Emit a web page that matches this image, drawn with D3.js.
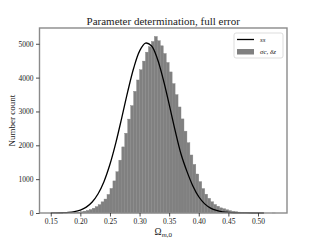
<!DOCTYPE html>
<html>
<head>
<meta charset="utf-8">
<script src="https://cdn.jsdelivr.net/npm/d3@7"></script>
<style>
  html, body { margin: 0; padding: 0; background: #fff; }
  svg { display: block; font-family: "Liberation Serif", "DejaVu Serif", serif; }
</style>
</head>
<body>
<div id="chart"></div>
<script>
// Histogram: left edge of each bin and the count in it
const binStart = 0.15;
const binWidth = 0.005;
const histCounts = [
  0, 0, 1, 1, 2, 4, 6, 9, 14, 24,
  38, 55, 77, 103, 142, 188, 246, 330, 412, 548,
  726, 948, 1218, 1561, 1953, 2357, 2774, 3172, 3595, 3930,
  4231, 4488, 4752, 4913, 5068, 5215, 5088, 4940, 4712, 4447,
  4168, 3822, 3496, 3133, 2780, 2418, 2076, 1714, 1436, 1152,
  928, 722, 556, 434, 331, 252, 200, 152, 126, 95,
  70, 51, 38, 26, 17, 11, 7, 5, 3, 2,
  1, 1, 0, 0, 0, 1
];

// "ss" curve
const curveOmega = [
  0.15, 0.16, 0.17, 0.18, 0.19, 0.20, 0.21, 0.22, 0.23, 0.24,
  0.25, 0.26, 0.27, 0.28, 0.29, 0.30, 0.31, 0.32, 0.33, 0.34,
  0.35, 0.36, 0.37, 0.38, 0.39, 0.40, 0.41, 0.42, 0.43, 0.44,
  0.45, 0.46, 0.47, 0.48, 0.49, 0.50, 0.51
];
const curveCount = [
  1, 3, 8, 18, 41, 87, 173, 325, 569, 933,
  1439, 2080, 2819, 3586, 4277, 4784, 5020, 4940, 4560, 3948,
  3207, 2441, 1743, 1230, 800, 480, 270, 145, 75, 36,
  16, 7, 3, 1, 0, 0, 0
];

const xTicks = [0.15, 0.20, 0.25, 0.30, 0.35, 0.40, 0.45, 0.50];
const yTicks = [0, 1000, 2000, 3000, 4000, 5000];
const legendLabels = ["ss", "σc, δz"];

const width = 320, height = 240;
const margin = {top: 28, right: 33, bottom: 27, left: 39.5};

const svg = d3.select("#chart").append("svg")
    .attr("width", width)
    .attr("height", height);

const x = d3.scaleLinear().domain([0.131, 0.549]).range([margin.left, width - margin.right]);
const y = d3.scaleLinear().domain([0, 5466]).range([height - margin.bottom, margin.top]);

const bins = histCounts.map((c, i) => ({x0: binStart + i * binWidth, x1: binStart + (i + 1) * binWidth, count: c}));

// Bars
svg.append("g")
  .selectAll("rect")
  .data(bins)
  .enter()
  .append("rect")
    .attr("x", d => x(d.x0))
    .attr("width", d => x(d.x1) - x(d.x0))
    .attr("y", d => y(d.count))
    .attr("height", d => y(0) - y(d.count))
    .attr("fill", "#808080")
    .attr("stroke", "#858585")
    .attr("stroke-width", 0.4);

// Curve
const line = d3.line()
    .x(d => x(d[0]))
    .y(d => y(d[1]))
    .curve(d3.curveCatmullRom);

svg.append("path")
    .datum(curveOmega.map((o, i) => [o, curveCount[i]]))
    .attr("d", line)
    .attr("fill", "none")
    .attr("stroke", "#000")
    .attr("stroke-width", 1.3);

// Frame
svg.append("rect")
    .attr("x", margin.left)
    .attr("y", margin.top)
    .attr("width", width - margin.left - margin.right)
    .attr("height", height - margin.top - margin.bottom)
    .attr("fill", "none")
    .attr("stroke", "#8a8a8a")
    .attr("stroke-width", 1.4);

// Axes
const xAxis = svg.append("g")
    .attr("transform", `translate(0,${height - margin.bottom})`)
    .call(d3.axisBottom(x).tickValues(xTicks).tickFormat(d3.format(".2f")).tickSizeOuter(0).tickSize(3.5).tickPadding(2.5));

const yAxis = svg.append("g")
    .attr("transform", `translate(${margin.left},0)`)
    .call(d3.axisLeft(y).tickValues(yTicks).tickFormat(d3.format("d")).tickSizeOuter(0).tickSize(3.5).tickPadding(2.5));

[xAxis, yAxis].forEach(g => {
  g.select(".domain").remove();
  g.selectAll("line").attr("stroke", "#222").attr("stroke-width", 0.8);
  g.selectAll("text")
    .attr("fill", "#222")
    .style("font-family", "'Liberation Serif', serif")
    .style("font-size", "7.5px");
});

// Title
svg.append("text")
    .attr("x", (margin.left + width - margin.right) / 2)
    .attr("y", 25)
    .attr("text-anchor", "middle")
    .style("font-size", "11px")
    .attr("fill", "#222")
    .text("Parameter determination, full error");

// Axis labels
svg.append("text")
    .attr("transform", `translate(14.5,${(margin.top + height - margin.bottom) / 2}) rotate(-90)`)
    .attr("text-anchor", "middle")
    .style("font-size", "9px")
    .attr("fill", "#222")
    .text("Number count");

const xl = svg.append("text")
    .attr("x", (margin.left + width - margin.right) / 2)
    .attr("y", 235)
    .attr("text-anchor", "middle")
    .style("font-size", "9.5px")
    .attr("fill", "#222");
xl.append("tspan").text("Ω");
xl.append("tspan").attr("dy", 2).style("font-size", "7px").style("font-style", "italic").text("m");
xl.append("tspan").style("font-size", "7px").text(",0");

// Legend
const lg = svg.append("g").attr("transform", "translate(234,33)");
lg.append("rect")
    .attr("width", 49).attr("height", 25)
    .attr("rx", 2)
    .attr("fill", "#fff").attr("fill-opacity", 0.8)
    .attr("stroke", "#d4d4d4").attr("stroke-width", 0.8);
lg.append("line")
    .attr("x1", 3).attr("x2", 20).attr("y1", 6.5).attr("y2", 6.5)
    .attr("stroke", "#000").attr("stroke-width", 1.3);
lg.append("rect")
    .attr("x", 3).attr("y", 16).attr("width", 17).attr("height", 5.5)
    .attr("fill", "#808080");
lg.selectAll("text.lab")
  .data(legendLabels)
  .enter()
  .append("text")
    .attr("class", "lab")
    .attr("x", 26)
    .attr("y", (d, i) => 9 + i * 12)
    .style("font-size", "7px")
    .style("font-style", "italic")
    .attr("fill", "#222")
    .text(d => d);
</script>
</body>
</html>
